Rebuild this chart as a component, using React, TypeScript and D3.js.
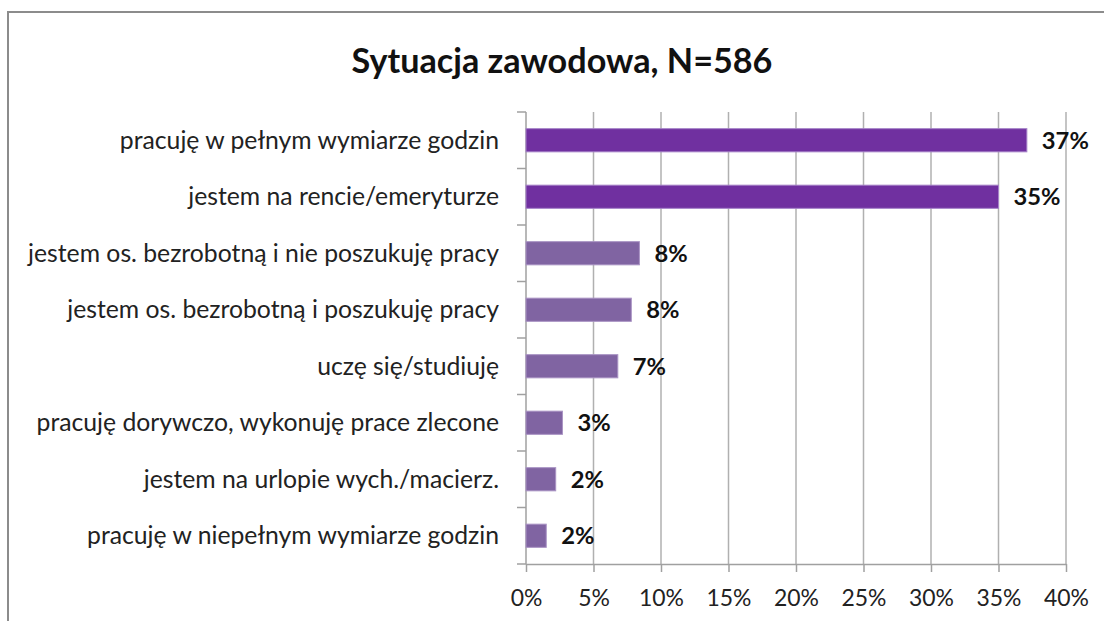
import * as d3 from "d3";
import { useEffect, useRef } from "react";

const title = "Sytuacja zawodowa, N=586";

const categories = [
  "pracuję w pełnym wymiarze godzin",
  "jestem na rencie/emeryturze",
  "jestem os. bezrobotną i nie poszukuję pracy",
  "jestem os. bezrobotną i poszukuję pracy",
  "uczę się/studiuję",
  "pracuję dorywczo, wykonuję prace zlecone",
  "jestem na urlopie wych./macierz.",
  "pracuję w niepełnym wymiarze godzin",
];

const values = [37.1, 35.0, 8.4, 7.8, 6.8, 2.7, 2.2, 1.5];
const valueLabels = ["37%", "35%", "8%", "8%", "7%", "3%", "2%", "2%"];
const xTicks = [0, 5, 10, 15, 20, 25, 30, 35, 40];

// scale a text selection so that its widest member measures `target` px
function fitWidth(sel: d3.Selection<any, any, any, any>, base: number, target: number) {
  sel.style("font-size", `${base}px`);
  let widest = 0;
  sel.each(function () {
    widest = Math.max(widest, (this as SVGTextElement).getComputedTextLength());
  });
  if (widest > 0) sel.style("font-size", `${(base * target) / widest}px`);
}

export default function App() {
  const ref = useRef<SVGSVGElement | null>(null);

  useEffect(() => {
    const svg = d3.select(ref.current);
    svg.selectAll("*").remove();

    const W = 1104;
    const H = 621;
    const margin = { top: 112, right: 38, bottom: 57, left: 526 };
    const width = W - margin.left - margin.right;
    const height = H - margin.top - margin.bottom;
    const font = "Lato, 'Open Sans', sans-serif";

    // chart frame
    svg
      .append("rect")
      .attr("x", 8)
      .attr("y", 12)
      .attr("width", W)
      .attr("height", H)
      .attr("fill", "#fff")
      .attr("stroke", "#8c8c8c")
      .attr("stroke-width", 2);

    const t = svg
      .append("text")
      .attr("x", 562)
      .attr("y", 73)
      .attr("text-anchor", "middle")
      .style("font-family", font)
      .style("font-weight", "bold")
      .attr("fill", "#111")
      .text(title);
    fitWidth(t, 28, 421);

    const g = svg.append("g").attr("transform", `translate(${margin.left},${margin.top})`);

    const x = d3.scaleLinear().domain([0, 40]).range([0, width]);
    const y = d3
      .scaleBand<string>()
      .domain(categories)
      .range([0, height])
      .paddingInner(0.59)
      .paddingOuter(0.295);

    // vertical grid
    g.selectAll("line.grid")
      .data(xTicks.slice(1))
      .join("line")
      .attr("class", "grid")
      .attr("x1", (d) => x(d))
      .attr("x2", (d) => x(d))
      .attr("y1", 0)
      .attr("y2", height)
      .attr("stroke", "#b0b0b0")
      .attr("stroke-width", 1.5);

    // x axis
    const xAxis = d3
      .axisBottom(x)
      .tickValues(xTicks)
      .tickSize(8)
      .tickSizeOuter(0)
      .tickFormat((d) => `${d}%`);
    const xa = g.append("g").attr("transform", `translate(0,${height})`).call(xAxis);
    xa.selectAll("line, path").attr("stroke", "#a0a0a0").attr("stroke-width", 1.5);
    const tickText = xa
      .selectAll("text")
      .attr("y", 42)
      .attr("dy", 0)
      .style("font-family", font)
      .attr("fill", "#222");
    fitWidth(tickText, 20, 45);

    // y axis with boundary ticks
    g.append("line")
      .attr("x1", 0)
      .attr("x2", 0)
      .attr("y1", 0)
      .attr("y2", height)
      .attr("stroke", "#a0a0a0")
      .attr("stroke-width", 1.5);
    const step = y.step();
    g.selectAll("line.ytick")
      .data(d3.range(categories.length + 1))
      .join("line")
      .attr("class", "ytick")
      .attr("x1", -9)
      .attr("x2", 0)
      .attr("y1", (i) => i * step)
      .attr("y2", (i) => i * step)
      .attr("stroke", "#a0a0a0")
      .attr("stroke-width", 1.5);

    const catText = g
      .selectAll("text.cat")
      .data(categories)
      .join("text")
      .attr("class", "cat")
      .attr("x", -27)
      .attr("y", (d) => (y(d) ?? 0) + y.bandwidth() / 2)
      .attr("dy", "0.35em")
      .attr("text-anchor", "end")
      .style("font-family", font)
      .attr("fill", "#222")
      .text((d) => d);
    fitWidth(catText, 20, 471);

    const color = (i: number) => (i < 2 ? "#7030a0" : "#8064a2");
    const edge = (i: number) => (i < 2 ? "#a582c8" : "#a993c4");

    g.selectAll("rect.bar")
      .data(values)
      .join("rect")
      .attr("class", "bar")
      .attr("x", 0)
      .attr("y", (_, i) => y(categories[i]) ?? 0)
      .attr("width", (d) => x(d))
      .attr("height", y.bandwidth())
      .attr("fill", (_, i) => color(i))
      .attr("stroke", (_, i) => edge(i))
      .attr("stroke-width", 1);

    const valText = g
      .selectAll("text.val")
      .data(values)
      .join("text")
      .attr("class", "val")
      .attr("x", (d) => x(d) + 15)
      .attr("y", (_, i) => (y(categories[i]) ?? 0) + y.bandwidth() / 2)
      .attr("dy", "0.35em")
      .style("font-family", font)
      .style("font-weight", "bold")
      .attr("fill", "#111")
      .text((_, i) => valueLabels[i]);
    fitWidth(valText, 20, 47);
  }, []);

  return (
    <svg
      ref={ref}
      width={1104}
      height={621}
      style={{ position: "absolute", left: 0, top: 0, background: "#fff" }}
    ></svg>
  );
}
